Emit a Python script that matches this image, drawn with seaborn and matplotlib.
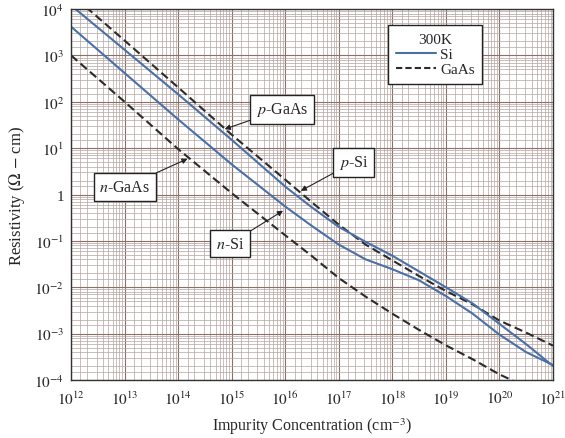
import numpy as np
import pandas as pd
import matplotlib
matplotlib.use("Agg")
import matplotlib.pyplot as plt
import seaborn as sns
from matplotlib.ticker import LogLocator, NullFormatter
from matplotlib.lines import Line2D

# impurity concentration (cm^-3)
conc = [1e12, 1e13, 1e14, 1e15, 1e16, 3.16e16, 1e17, 3.16e17, 1e18,
        3.16e18, 1e19, 3.16e19, 1e20, 3.16e20, 1e21]

# resistivity (ohm-cm)
rho_p_si = [12000, 1320, 145, 15.1, 1.48, 0.525, 0.2, 0.0955, 0.0479,
            0.0219, 0.0100, 0.00447, 0.00162, 5.9e-4, 2.0e-4]
rho_n_si = [4170, 417, 41.7, 4.47, 0.55, 0.209, 0.0832, 0.040, 0.0245,
            0.0141, 0.00646, 0.00269, 9.5e-4, 3.98e-4, 2.1e-4]
rho_p_gaas = [20900, 2090, 204, 19.5, 2.09, 0.676, 0.224, 0.0832, 0.038,
              0.0174, 0.00832, 0.00427, 0.00191, 0.00105, 5.5e-4]
rho_n_gaas = [1000, 100, 9.55, 1.07, 0.132, 0.0468, 0.0158, 0.0063, 0.00269,
              0.0012, 5.6e-4, 2.8e-4, 1.32e-4, 7.1e-5, 4.0e-5]

xtick_vals = [1e12, 1e13, 1e14, 1e15, 1e16, 1e17, 1e18, 1e19, 1e20, 1e21]
xtick_labels = [r"$10^{12}$", r"$10^{13}$", r"$10^{14}$", r"$10^{15}$", r"$10^{16}$",
                r"$10^{17}$", r"$10^{18}$", r"$10^{19}$", r"$10^{20}$", r"$10^{21}$"]
ytick_vals = [1e-4, 1e-3, 1e-2, 1e-1, 1, 1e1, 1e2, 1e3, 1e4]
ytick_labels = [r"$10^{-4}$", r"$10^{-3}$", r"$10^{-2}$", r"$10^{-1}$", "1",
                r"$10^{1}$", r"$10^{2}$", r"$10^{3}$", r"$10^{4}$"]

sns.set_theme(style="white")
plt.rcParams["font.family"] = ["Liberation Serif", "DejaVu Serif"]
plt.rcParams["mathtext.fontset"] = "stix"

si_color = "#4a70a8"
gaas_color = "#2b2b2b"

fig = plt.figure(figsize=(5.65, 4.39), dpi=100)
ax = fig.add_axes([0.1257, 0.1321, 0.8531, 0.8451])
ax.set_xscale("log")
ax.set_yscale("log")

curves = [
    (rho_p_gaas, gaas_color, (4, 2)),
    (rho_p_si, si_color, ""),
    (rho_n_si, si_color, ""),
    (rho_n_gaas, gaas_color, (4, 2)),
]
for rho, col, dash in curves:
    df = pd.DataFrame({"conc": conc, "rho": rho})
    sns.lineplot(data=df, x="conc", y="rho", ax=ax, color=col, lw=1.5,
                 estimator=None, sort=False, legend=False,
                 linestyle="--" if dash else "-")
    if dash:
        ax.lines[-1].set_dashes(dash)

ax.set_xlim(1e12, 1e21)
ax.set_ylim(1e-4, 1e4)

# graph paper grid
subs = [1.5, 2, 3, 4, 5, 6, 7, 8, 9]
ax.xaxis.set_minor_locator(LogLocator(base=10, subs=subs, numticks=200))
ax.yaxis.set_minor_locator(LogLocator(base=10, subs=subs, numticks=200))
ax.xaxis.set_minor_formatter(NullFormatter())
ax.yaxis.set_minor_formatter(NullFormatter())
ax.grid(which="major", color="#8a7068", lw=0.8)
ax.grid(which="minor", color="#b4a4a0", lw=0.5)
ax.set_axisbelow(True)

ax.set_xticks(xtick_vals)
ax.set_xticklabels(xtick_labels, fontsize=11)
ax.set_yticks(ytick_vals)
ax.set_yticklabels(ytick_labels, fontsize=11)
ax.tick_params(which="both", length=0)
ax.tick_params(axis="x", pad=7)
ax.tick_params(axis="y", pad=5)

for s in ax.spines.values():
    s.set_color("#333333")
    s.set_linewidth(1.0)

ax.set_xlabel(r"Impurity Concentration (cm$^{-3}$)", fontsize=11.5, labelpad=6)
ax.set_ylabel(r"Resistivity ($\Omega$ $-$ cm)", fontsize=12, labelpad=5)

# curve labels
box = dict(boxstyle="square,pad=0.35", fc="white", ec="#222222", lw=1.0)
arrow = dict(arrowstyle="-|>", color="#222222", lw=0.8, mutation_scale=8,
             shrinkA=0, shrinkB=0)
labels = [
    (r"$p$-GaAs", (7.4e14, 25.7), (8.7e15, 69)),
    (r"$p$-Si", (1.95e16, 1.2), (1.9e17, 5.0)),
    (r"$n$-Si", (9.1e15, 0.447), (9.3e14, 0.087)),
    (r"$n$-GaAs", (1.5e14, 5.9), (1.02e13, 1.45)),
]
for txt, tip, pos in labels:
    ax.annotate(txt, xy=tip, xytext=pos, fontsize=11.5, ha="center", va="center",
                bbox=box, arrowprops=arrow, zorder=5)

handles = [Line2D([], [], color=si_color, lw=1.5),
           Line2D([], [], color=gaas_color, lw=1.5, dashes=(3, 1.5))]
leg = ax.legend(handles, ["Si", "GaAs"], title="300K", loc="upper left",
                bbox_to_anchor=(0.658, 0.956), fontsize=11, title_fontsize=11,
                frameon=True, fancybox=False, framealpha=1, edgecolor="#222222",
                handlelength=2.6, handletextpad=0.3, borderpad=0.5,
                labelspacing=0.1, borderaxespad=0)
leg.get_frame().set_linewidth(1.0)
leg.set_zorder(6)

fig.savefig("out.png", dpi=100)
